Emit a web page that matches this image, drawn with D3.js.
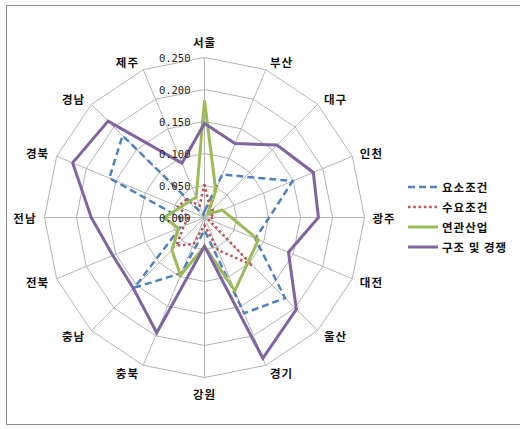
<!DOCTYPE html>
<html>
<head>
<meta charset="utf-8">
<script src="https://cdn.jsdelivr.net/npm/d3@7"></script>
<style>
  html, body { margin: 0; padding: 0; background: #fff; }
  svg { display: block; }
</style>
</head>
<body>
<svg id="chart" width="520" height="429"></svg>
<script>
// Regions around the radar, clockwise from the top
const categories = ['서울','부산','대구','인천','광주','대전','울산','경기','강원','충북','충남','전북','전남','경북','경남','제주'];

// Series values per region
const factorCond  = [0.010, 0.073, 0.090, 0.149, 0.101, 0.086, 0.178, 0.162, 0.020, 0.094, 0.155, 0.041, 0.038, 0.161, 0.181, 0.005];
const demandCond  = [0.052, 0.020, 0.018, 0.012, 0.015, 0.006, 0.105, 0.055, 0.012, 0.045, 0.062, 0.035, 0.025, 0.045, 0.040, 0.020];
const relatedInd  = [0.183, 0.046, 0.008, 0.030, 0.042, 0.091, 0.097, 0.124, 0.045, 0.098, 0.072, 0.044, 0.063, 0.041, 0.035, 0.034];
const structComp  = [0.147, 0.125, 0.160, 0.184, 0.178, 0.142, 0.203, 0.238, 0.045, 0.195, 0.157, 0.155, 0.177, 0.223, 0.213, 0.092];

const seriesNames = ['요소조건', '수요조건', '연관산업', '구조 및 경쟁'];
const tickValues  = [0, 0.05, 0.10, 0.15, 0.20, 0.25];

const series = [
  { name: seriesNames[0], values: factorCond, color: '#4F81BD', width: 2.5, dash: '7,4', cap: 'butt' },
  { name: seriesNames[1], values: demandCond, color: '#C0504D', width: 2.5, dash: '2.5,2.8', cap: 'butt' },
  { name: seriesNames[2], values: relatedInd, color: '#9BBB59', width: 3, dash: null, cap: 'butt' },
  { name: seriesNames[3], values: structComp, color: '#8064A2', width: 3, dash: null, cap: 'butt' }
];

const svg = d3.select('#chart');
const cx = 204.5, cy = 217.5;
const rScale = d3.scaleLinear().domain([0, 0.25]).range([0, 160]);
const angle = d3.scalePoint().domain(categories.map((d, i) => i)).range([0, 2 * Math.PI * (categories.length - 1) / categories.length]);

const pt = (i, v) => {
  const a = angle(i), r = rScale(v);
  return [cx + r * Math.sin(a), cy - r * Math.cos(a)];
};

// Outer frame
svg.append('rect')
  .attr('x', 6.5).attr('y', 5.5).attr('width', 620).attr('height', 419)
  .attr('fill', 'none').attr('stroke', '#8c8c8c').attr('stroke-width', 1);

const grid = svg.append('g');
// Concentric polygon rings
tickValues.slice(1).forEach(t => {
  const pts = categories.map((c, i) => pt(i, t));
  grid.append('polygon')
    .attr('points', pts.map(p => p.join(',')).join(' '))
    .attr('fill', 'none').attr('stroke', '#b4b4b4').attr('stroke-width', 1);
});
// Spokes
categories.forEach((c, i) => {
  const [x, y] = pt(i, 0.25);
  grid.append('line')
    .attr('x1', cx).attr('y1', cy).attr('x2', x).attr('y2', y)
    .attr('stroke', '#b4b4b4').attr('stroke-width', 1);
});

// Series polygons
const line = d3.line().curve(d3.curveLinearClosed);
series.forEach(s => {
  svg.append('path')
    .attr('d', line(s.values.map((v, i) => pt(i, v))))
    .attr('fill', 'none')
    .attr('stroke', s.color)
    .attr('stroke-width', s.width)
    .attr('stroke-linejoin', 'miter')
    .attr('stroke-linecap', s.cap)
    .attr('stroke-dasharray', s.dash);
});

// Value axis tick labels along the top spoke
svg.append('g').selectAll('text')
  .data(tickValues).join('text')
  .attr('x', cx - 14)
  .attr('y', d => cy - rScale(d))
  .attr('text-anchor', 'end')
  .attr('dominant-baseline', 'central')
  .attr('font-family', '"DejaVu Sans Mono", monospace')
  .attr('font-size', 10.5)
  .attr('fill', '#222')
  .text(d3.format('.3f'));

// Category labels outside the outer ring
svg.append('g').selectAll('text')
  .data(categories).join('text')
  .each(function (c, i) {
    const a = angle(i), s = Math.sin(a), co = Math.cos(a);
    const [vx, vy] = pt(i, 0.25);
    const el = d3.select(this);
    if (Math.abs(s) < 0.1) {
      el.attr('x', vx).attr('y', vy - 16 * Math.sign(co)).attr('text-anchor', 'middle');
    } else {
      const off = 2 + 6 * Math.abs(s);
      el.attr('x', vx + Math.sign(s) * off)
        .attr('y', vy - 8 * co)
        .attr('text-anchor', s > 0 ? 'start' : 'end');
    }
  })
  .attr('dominant-baseline', 'central')
  .attr('font-family', '"Noto Sans CJK KR", sans-serif')
  .attr('font-weight', 'bold')
  .attr('font-size', 11.5)
  .attr('letter-spacing', 1)
  .attr('fill', '#111')
  .text(d => d);

// Legend
const legend = svg.append('g').attr('transform', 'translate(408,187)');
series.forEach((s, i) => {
  const g = legend.append('g').attr('transform', `translate(0,${i * 20})`);
  g.append('line')
    .attr('x1', 0).attr('x2', 30).attr('y1', 0).attr('y2', 0)
    .attr('stroke', s.color).attr('stroke-width', s.width)
    .attr('stroke-linecap', s.cap)
    .attr('stroke-dasharray', s.dash);
  g.append('text')
    .attr('x', 34).attr('y', 0)
    .attr('dominant-baseline', 'central')
    .attr('font-family', '"Noto Sans CJK KR", sans-serif')
    .attr('font-weight', 'bold')
    .attr('font-size', 11.5)
    .attr('letter-spacing', 1)
    .attr('fill', '#111')
    .text(s.name);
});
</script>
</body>
</html>
